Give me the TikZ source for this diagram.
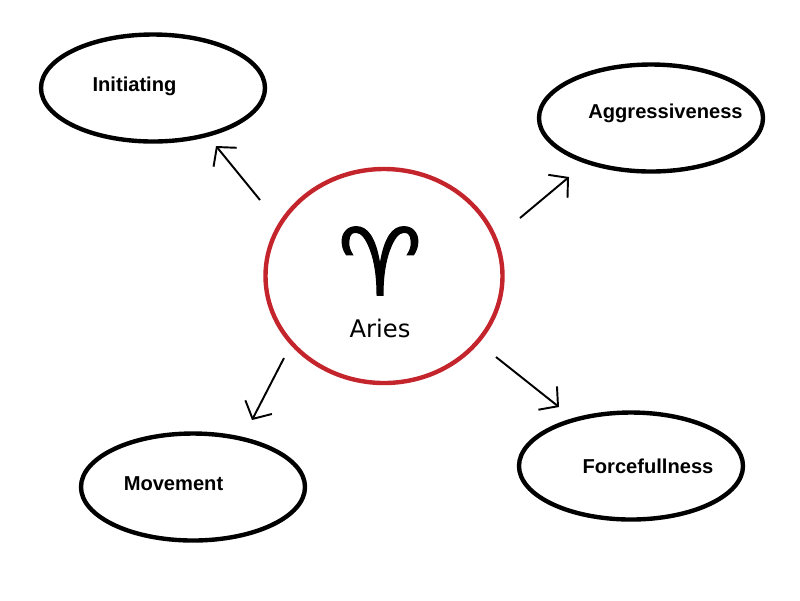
\documentclass[tikz,border=0pt]{standalone}
\usepackage{fontspec}
\setmainfont{Liberation Sans}
\newfontfamily\signfont{DejaVu Sans}
\newfontfamily\signboldfont[FakeBold=1.2]{DejaVu Sans}
\usetikzlibrary{shapes.geometric,arrows.meta}
\definecolor{ariesred}{HTML}{C4242C}
\newlength{\unitpx}
\setlength{\unitpx}{0.02cm}
\tikzset{
  trait/.style={draw=black, line width=2.5pt, ellipse, inner sep=0pt, minimum width=224\unitpx, minimum height=107\unitpx},
  traittext/.style={font=\fontsize{11.45pt}{13pt}\selectfont\bfseries, inner sep=0pt},
  link/.style={-{Straight Barb[length=7.5pt,width=17pt,line width=1.1pt]}, line width=1.1pt}
}
\begin{document}
\begin{tikzpicture}[x=0.02cm,y=-0.02cm]
      \useasboundingbox (0,0) rectangle (800,600);
      % centre
      \node[draw=ariesred, line width=2.5pt, ellipse, inner sep=0pt, minimum width=237\unitpx, minimum height=214\unitpx] (aries) at (384,276) {};
      \node[font=\signboldfont\fontsize{53.5pt}{54pt}\selectfont, inner sep=0pt] (sign) at (380,261) {♈};
      \node[font=\signfont\fontsize{13.8pt}{16pt}\selectfont, inner sep=0pt] (ariestext) at (380,328) {Aries};
      % traits
      \node[trait] (initiating) at (153,88) {};
      \node[trait] (aggressive) at (651,118) {};
      \node[trait] (movement) at (193,487) {};
      \node[trait] (forceful) at (631,466) {};
      \node[traittext] (initiatingtext) at (134.5,86) {Initiating};
      \node[traittext] (aggressivetext) at (665.5,113) {Aggressiveness};
      \node[traittext] (movementtext) at (173.5,484) {Movement};
      \node[traittext] (forcefultext) at (648,466.5) {Forcefullness};
      % arrow ends
      \coordinate (a1) at (260,200);
      \coordinate (b1) at (216,146);
      \coordinate (a2) at (520,218);
      \coordinate (b2) at (569,177);
      \coordinate (a3) at (284,358);
      \coordinate (b3) at (252,420);
      \coordinate (a4) at (496,357);
      \coordinate (b4) at (559,407);
      \draw[link] (a1)--(b1);
      \draw[link] (a2)--(b2);
      \draw[link] (a3)--(b3);
      \draw[link] (a4)--(b4);
\end{tikzpicture}
\end{document}
